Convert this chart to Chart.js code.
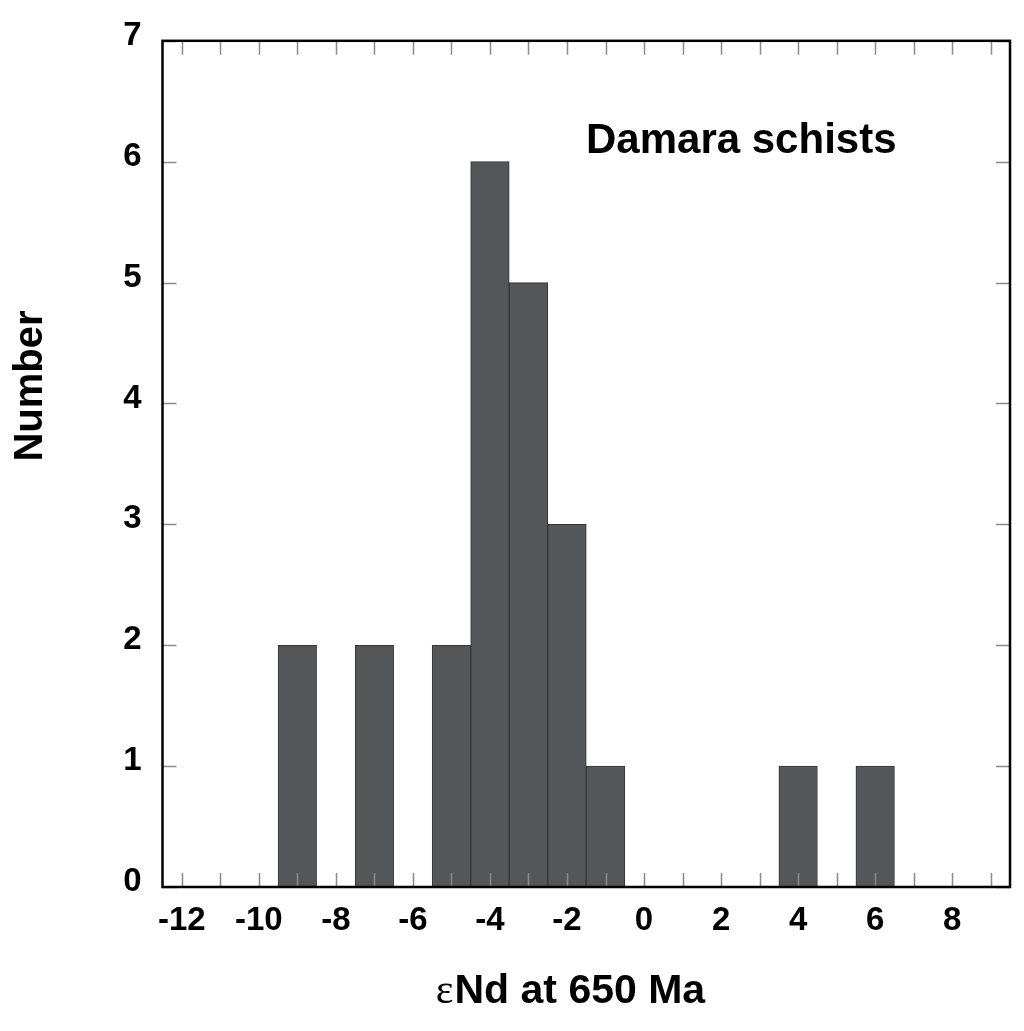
<!DOCTYPE html>
<html>
<head>
<meta charset="utf-8">
<script src="https://cdn.jsdelivr.net/npm/chart.js@4"></script>
<style>
  html, body { margin: 0; padding: 0; background: #fff; }
  #wrap { width: 1024px; height: 1031px; position: relative; }
</style>
</head>
<body>
<div id="wrap"><canvas id="c"></canvas></div>
<script>
// ---- data ----
const binCenters = [-9, -7, -5, -4, -3, -2, -1, 4, 6];
const counts     = [ 2,  2,  2,  6,  5,  3,  1, 1, 1];
const xTickValues = [-12, -11, -10, -9, -8, -7, -6, -5, -4, -3, -2, -1, 0, 1, 2, 3, 4, 5, 6, 7, 8, 9];
const xLabelTicks = [-12, -10, -8, -6, -4, -2, 0, 2, 4, 6, 8];
const yTicks = [0, 1, 2, 3, 4, 5, 6, 7];
const xTitle = "Nd at 650 Ma";
const xTitleSymbol = "\u03B5";
const yTitle = "Number";
const annotation = "Damara schists";

const SANS = "'Liberation Sans', Arial, Helvetica, sans-serif";

const framePlugin = {
  id: 'frameTicks',
  afterDatasetsDraw(chart) {
    const ctx = chart.ctx;
    const a = chart.chartArea;
    const xs = chart.scales.x, ys = chart.scales.y;
    const TL = 14;
    ctx.save();
    ctx.strokeStyle = '#8a8a8a';
    ctx.lineWidth = 1.5;
    ctx.beginPath();
    xs.ticks.forEach(t => {
      const px = Math.round(xs.getPixelForValue(t.value)) + 0.5;
      ctx.moveTo(px, a.bottom); ctx.lineTo(px, a.bottom - TL);
      ctx.moveTo(px, a.top); ctx.lineTo(px, a.top + TL);
    });
    ys.ticks.forEach(t => {
      const py = Math.round(ys.getPixelForValue(t.value)) + 0.5;
      ctx.moveTo(a.left, py); ctx.lineTo(a.left + TL, py);
      ctx.moveTo(a.right, py); ctx.lineTo(a.right - TL, py);
    });
    ctx.stroke();
    ctx.strokeStyle = '#000';
    ctx.lineWidth = 2.5;
    ctx.strokeRect(a.left, a.top, a.right - a.left, a.bottom - a.top);

    // annotation
    ctx.fillStyle = '#000';
    ctx.font = "bold 42px " + SANS;
    ctx.textAlign = 'left';
    ctx.textBaseline = 'alphabetic';
    ctx.fillText(annotation, 586, 153);

    // x title
    const serif = "42px 'Liberation Serif', 'Times New Roman', serif";
    const bold = "bold 41px " + SANS;
    ctx.font = serif;
    const w1 = ctx.measureText(xTitleSymbol).width;
    ctx.font = bold;
    const w2 = ctx.measureText(xTitle).width;
    const sx = 570 - (w1 + w2) / 2;
    ctx.font = serif;
    ctx.fillText(xTitleSymbol, sx, 1003);
    ctx.font = bold;
    ctx.fillText(xTitle, sx + w1 + 1, 1003);

    // y title
    ctx.font = "bold 40px " + SANS;
    ctx.translate(42, 386);
    ctx.rotate(-Math.PI / 2);
    ctx.textAlign = 'center';
    ctx.fillText(yTitle, 0, 0);
    ctx.restore();
  }
};

new Chart(document.getElementById('c'), {
  type: 'bar',
  data: {
    datasets: [{
      data: binCenters.map((x, i) => ({ x: x, y: counts[i] })),
      backgroundColor: '#555658',
      borderColor: '#353535',
      borderWidth: 1,
      barPercentage: 1.0,
      categoryPercentage: 1.0
    }]
  },
  options: {
    responsive: true,
    maintainAspectRatio: false,
    animation: false,
    layout: { padding: { left: 0, right: 14, top: 39, bottom: 0 } },
    plugins: { legend: { display: false }, tooltip: { enabled: false } },
    scales: {
      x: {
        type: 'linear',
        offset: false,
        min: -12.5,
        max: 9.5,
        grid: { display: true, drawOnChartArea: false, drawTicks: false, offset: false },
        border: { display: false },
        afterBuildTicks: (s) => { s.ticks = xTickValues.map(v => ({ value: v })); },
        ticks: {
          autoSkip: false,
          maxRotation: 0,
          padding: 14,
          color: '#000',
          font: { family: SANS, size: 33, weight: 'bold' },
          callback: (v) => xLabelTicks.includes(v) ? String(v) : ''
        },
        afterFit: (s) => { s.height = 144; }
      },
      y: {
        min: 0,
        max: 7,
        grid: { display: true, drawOnChartArea: false, drawTicks: false },
        border: { display: false },
        afterBuildTicks: (s) => { s.ticks = yTicks.map(v => ({ value: v })); },
        ticks: {
          padding: 21,
          labelOffset: -5,
          color: '#000',
          font: { family: SANS, size: 33, weight: 'bold' }
        },
        afterFit: (s) => { s.width = 162.5; }
      }
    }
  },
  plugins: [framePlugin]
});
</script>
</body>
</html>
